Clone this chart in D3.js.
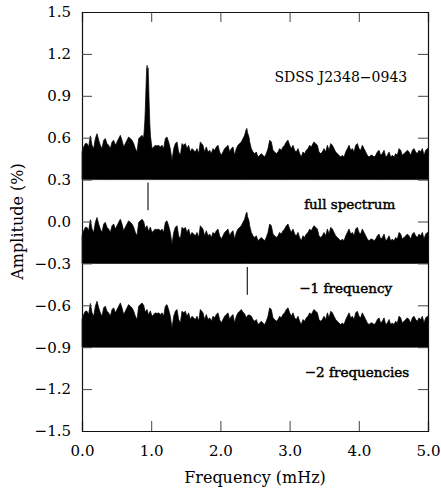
<!DOCTYPE html>
<html>
<head>
<meta charset="utf-8">
<script src="https://cdn.jsdelivr.net/npm/d3@7"></script>
<style>
  body { margin: 0; background: #fff; }
  svg text { font-family: 'DejaVu Serif', serif; fill: #000; }
</style>
</head>
<body>
<svg id="chart" width="441" height="493"></svg>
<script>
// amplitude spectrum of the residual noise, [frequency mHz, amplitude %] above each baseline
const noise = [
  [0.000, 0.198], [0.024, 0.234], [0.048, 0.258], [0.072, 0.258], [0.096, 0.234], [0.120, 0.313],
  [0.145, 0.246], [0.169, 0.222], [0.193, 0.294], [0.217, 0.329], [0.241, 0.282], [0.265, 0.246],
  [0.289, 0.222], [0.313, 0.282], [0.337, 0.294], [0.361, 0.258], [0.385, 0.246], [0.409, 0.222],
  [0.434, 0.270], [0.458, 0.282], [0.482, 0.246], [0.506, 0.270], [0.530, 0.294], [0.554, 0.317],
  [0.578, 0.282], [0.602, 0.234], [0.626, 0.258], [0.650, 0.282], [0.674, 0.305], [0.698, 0.294],
  [0.723, 0.282], [0.747, 0.258], [0.771, 0.222], [0.795, 0.198], [0.819, 0.294], [0.843, 0.305],
  [0.867, 0.317], [0.891, 0.300], [0.915, 0.250], [0.939, 0.270], [0.963, 0.230], [0.987, 0.260],
  [1.012, 0.222], [1.036, 0.234], [1.060, 0.246], [1.084, 0.241], [1.108, 0.246], [1.132, 0.234],
  [1.156, 0.246], [1.180, 0.222], [1.204, 0.294], [1.228, 0.305], [1.252, 0.270], [1.276, 0.222],
  [1.301, 0.138], [1.325, 0.222], [1.349, 0.258], [1.373, 0.270], [1.397, 0.198], [1.421, 0.174],
  [1.445, 0.258], [1.469, 0.246], [1.493, 0.258], [1.517, 0.222], [1.541, 0.246], [1.566, 0.198],
  [1.590, 0.222], [1.614, 0.210], [1.638, 0.198], [1.662, 0.222], [1.686, 0.186], [1.710, 0.270],
  [1.748, 0.246], [1.772, 0.198], [1.796, 0.234], [1.821, 0.198], [1.845, 0.210], [1.869, 0.186],
  [1.893, 0.222], [1.917, 0.210], [1.941, 0.234], [1.965, 0.246], [1.989, 0.198], [2.013, 0.174],
  [2.037, 0.198], [2.061, 0.222], [2.085, 0.234], [2.110, 0.246], [2.134, 0.198], [2.158, 0.222],
  [2.182, 0.234], [2.206, 0.174], [2.230, 0.222], [2.254, 0.246], [2.278, 0.258], [2.302, 0.270],
  [2.326, 0.250], [2.350, 0.240], [2.374, 0.210], [2.399, 0.230], [2.423, 0.230], [2.447, 0.222],
  [2.471, 0.198], [2.495, 0.186], [2.519, 0.198], [2.543, 0.162], [2.567, 0.174], [2.591, 0.186],
  [2.615, 0.174], [2.639, 0.162], [2.663, 0.186], [2.688, 0.222], [2.712, 0.282], [2.736, 0.270],
  [2.760, 0.210], [2.784, 0.198], [2.808, 0.186], [2.832, 0.198], [2.856, 0.222], [2.880, 0.210],
  [2.904, 0.234], [2.928, 0.246], [2.952, 0.270], [2.977, 0.282], [3.001, 0.246], [3.025, 0.222],
  [3.049, 0.246], [3.073, 0.210], [3.097, 0.198], [3.121, 0.222], [3.145, 0.186], [3.169, 0.162],
  [3.193, 0.198], [3.217, 0.186], [3.241, 0.210], [3.266, 0.222], [3.290, 0.246], [3.314, 0.234],
  [3.338, 0.258], [3.353, 0.270], [3.377, 0.258], [3.401, 0.246], [3.425, 0.198], [3.449, 0.186],
  [3.473, 0.198], [3.497, 0.222], [3.522, 0.198], [3.546, 0.246], [3.570, 0.210], [3.594, 0.258],
  [3.618, 0.246], [3.642, 0.222], [3.666, 0.198], [3.690, 0.186], [3.714, 0.174], [3.738, 0.162],
  [3.762, 0.174], [3.786, 0.162], [3.811, 0.198], [3.835, 0.222], [3.859, 0.246], [3.883, 0.210],
  [3.907, 0.222], [3.931, 0.198], [3.955, 0.246], [3.979, 0.258], [4.003, 0.222], [4.027, 0.210],
  [4.051, 0.246], [4.076, 0.222], [4.100, 0.198], [4.124, 0.174], [4.148, 0.162], [4.172, 0.174],
  [4.196, 0.174], [4.220, 0.162], [4.244, 0.174], [4.268, 0.198], [4.292, 0.210], [4.316, 0.174],
  [4.340, 0.186], [4.365, 0.210], [4.389, 0.162], [4.413, 0.174], [4.437, 0.198], [4.461, 0.162],
  [4.485, 0.174], [4.509, 0.162], [4.533, 0.186], [4.557, 0.174], [4.581, 0.222], [4.605, 0.210],
  [4.629, 0.174], [4.654, 0.186], [4.678, 0.198], [4.702, 0.210], [4.726, 0.198], [4.750, 0.174],
  [4.774, 0.210], [4.798, 0.222], [4.822, 0.198], [4.846, 0.186], [4.870, 0.210], [4.894, 0.198],
  [4.918, 0.222], [4.943, 0.174], [4.967, 0.210], [4.991, 0.222], [5.000, 0.220]
]

// the two pulsation peaks, removed one after the other
const peak1 = [
  [0.900, 0.36], [0.908, 0.42], [0.915, 0.51], [0.925, 0.66], [0.934, 0.79], [0.941, 0.818],
  [0.948, 0.76], [0.954, 0.80], [0.961, 0.72], [0.970, 0.56], [0.980, 0.40], [0.990, 0.31]
]
const peak2 = [
  [2.326, 0.294], [2.338, 0.305], [2.350, 0.317], [2.362, 0.340], [2.374, 0.360],
  [2.383, 0.366], [2.392, 0.335], [2.404, 0.320], [2.415, 0.300], [2.423, 0.270]
]

const baselines = [0.3, -0.3, -0.9]
const panelLabels = ['full spectrum', '\u22121 frequency', '\u22122 frequencies']
const labelPos = [[3.21, 0.125], [3.14, -0.477], [3.22, -1.078]]

// frequencies that get prewhitened, marked under the spectrum they come from
const markerFreqs = [0.954, 2.389]
const markerTop = [0.28, -0.325]
const markerBottom = [0.08, -0.525]

const xTicks = [0, 1, 2, 3, 4, 5]
const yTicks = [-1.5, -1.2, -0.9, -0.6, -0.3, 0.0, 0.3, 0.6, 0.9, 1.2, 1.5]
const starName = 'SDSS J2348\u22120943'

const margin = { top: 12, right: 13, bottom: 62, left: 82 }
const svg = d3.select('#chart')
const width = 441 - margin.left - margin.right
const height = 493 - margin.top - margin.bottom

const x = d3.scaleLinear().domain([0, 5]).range([margin.left, margin.left + width])
const y = d3.scaleLinear().domain([-1.5, 1.5]).range([margin.top + height, margin.top])

// put the peaks into the noise where they sit
function withPeaks(base, peaks) {
  let pts = base.slice()
  peaks.forEach((p) => {
    const lo = p[0][0]
    const hi = p[p.length - 1][0]
    pts = pts.filter((d) => d[0] < lo || d[0] > hi).concat(p)
  })
  return pts.sort((a, b) => a[0] - b[0])
}

const spectra = [withPeaks(noise, [peak1, peak2]), withPeaks(noise, [peak2]), noise]

spectra.forEach((s, i) => {
  const b = baselines[i]
  const area = d3
    .area()
    .x((d) => x(d[0]))
    .y0(y(b))
    .y1((d) => y(b + d[1]))
  svg
    .append('path')
    .datum(s)
    .attr('d', area)
    .attr('fill', '#000')
    .attr('stroke', '#000')
    .attr('stroke-width', 0.7)
    .attr('stroke-linejoin', 'miter')
})

// marker lines
markerFreqs.forEach((f, i) => {
  svg
    .append('line')
    .attr('x1', x(f))
    .attr('x2', x(f))
    .attr('y1', y(markerTop[i]))
    .attr('y2', y(markerBottom[i]))
    .attr('stroke', '#222')
    .attr('stroke-width', 1.2)
})

const fmt = (d) => d3.format('.1f')(d).replace('-', '\u2212')

// axes, ticks pointing inwards on all four sides
const axisBottom = d3.axisBottom(x).tickValues(xTicks).tickSize(-10).tickPadding(14).tickFormat(fmt)
const axisTop = d3.axisTop(x).tickValues(xTicks).tickSize(-10).tickFormat('')
const axisLeft = d3.axisLeft(y).tickValues(yTicks).tickSize(-10).tickPadding(11).tickFormat(fmt)
const axisRight = d3.axisRight(y).tickValues(yTicks).tickSize(-10).tickFormat('')

const gb = svg.append('g').attr('transform', `translate(0,${y(-1.5)})`).call(axisBottom)
const gt = svg.append('g').attr('transform', `translate(0,${y(1.5)})`).call(axisTop)
const gl = svg.append('g').attr('transform', `translate(${x(0)},0)`).call(axisLeft)
const gr = svg.append('g').attr('transform', `translate(${x(5)},0)`).call(axisRight)

;[gb, gt, gl, gr].forEach((g) => {
  g.select('.domain').attr('stroke', '#111').attr('stroke-width', 1.2)
  g.selectAll('.tick line').attr('stroke', '#444').attr('stroke-width', 1)
  g.selectAll('.tick text').attr('font-family', 'DejaVu Serif').attr('font-size', 15).attr('fill', '#000')
})
// ends of the frame already drawn by the frame itself
gb.selectAll('.tick').filter((d) => d === 0 || d === 5).select('line').remove()
gt.selectAll('.tick').filter((d) => d === 0 || d === 5).select('line').remove()
gl.selectAll('.tick').filter((d) => d === -1.5 || d === 1.5).select('line').remove()
gr.selectAll('.tick').filter((d) => d === -1.5 || d === 1.5).select('line').remove()

// axis titles
svg
  .append('text')
  .attr('x', x(2.5))
  .attr('y', 483)
  .attr('text-anchor', 'middle')
  .attr('font-size', 16)
  .text('Frequency (mHz)')

svg
  .append('text')
  .attr('transform', `translate(23,${y(0)}) rotate(-90)`)
  .attr('text-anchor', 'middle')
  .attr('font-size', 16)
  .text('Amplitude (%)')

svg
  .append('text')
  .attr('x', x(3.74))
  .attr('y', y(1.035))
  .attr('dy', '0.36em')
  .attr('text-anchor', 'middle')
  .attr('font-size', 14)
  .text(starName)

panelLabels.forEach((t, i) => {
  svg
    .append('text')
    .attr('x', x(labelPos[i][0]))
    .attr('y', y(labelPos[i][1]))
    .attr('dy', '0.36em')
    .attr('font-size', 13.5)
    .attr('stroke', '#000')
    .attr('stroke-width', 0.45)
    .text(t)
})
</script>
</body>
</html>
